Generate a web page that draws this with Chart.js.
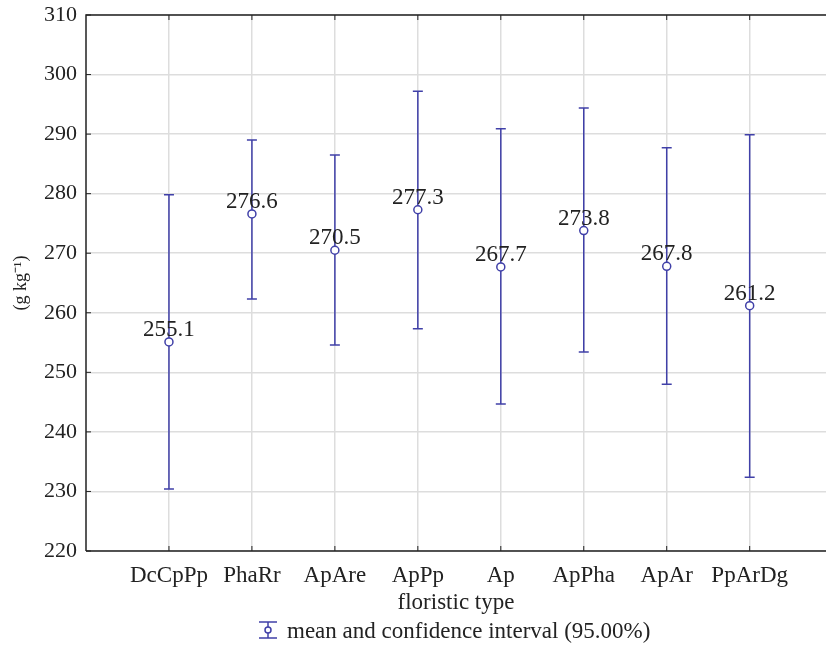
<!DOCTYPE html>
<html>
<head>
<meta charset="utf-8">
<script src="https://cdn.jsdelivr.net/npm/chart.js@4"></script>
<style>
  body { margin: 0; background: #fff; }
  #wrap { width: 826px; height: 645px; }
</style>
</head>
<body>
<div id="wrap"><canvas id="errchart" width="826" height="645"></canvas></div>
<script>
const categories = ["DcCpPp", "PhaRr", "ApAre", "ApPp", "Ap", "ApPha", "ApAr", "PpArDg"];
const means = [255.1, 276.6, 270.5, 277.3, 267.7, 273.8, 267.8, 261.2];
const lower = [230.4, 262.3, 254.6, 257.3, 244.7, 253.4, 248.0, 232.4];
const upper = [279.8, 289.0, 286.5, 297.2, 290.9, 294.4, 287.7, 289.9];
const yMin = 220, yMax = 310, yStep = 10;

const blue = "#4040a8";
const ink = "#222222";
const serif = "'Liberation Serif', 'Times New Roman', serif";

// whiskers + value labels, drawn through the chart scales
const errorBars = {
  id: "errorBars",
  beforeDatasetsDraw(chart) {
    const c = chart.ctx, xs = chart.scales.x, ys = chart.scales.y;
    c.save();
    c.strokeStyle = blue;
    c.lineWidth = 1.5;
    categories.forEach((cat, i) => {
      const x = xs.getPixelForValue(i + 1);
      const yl = ys.getPixelForValue(lower[i]);
      const yu = ys.getPixelForValue(upper[i]);
      c.beginPath();
      c.moveTo(x, yu); c.lineTo(x, yl);
      c.moveTo(x - 5, yu); c.lineTo(x + 5, yu);
      c.moveTo(x - 5, yl); c.lineTo(x + 5, yl);
      c.stroke();
    });
    c.restore();
  },
  afterDatasetsDraw(chart) {
    const c = chart.ctx, xs = chart.scales.x, ys = chart.scales.y;
    c.save();
    c.fillStyle = ink;
    c.font = "23px " + serif;
    c.textAlign = "center";
    c.textBaseline = "alphabetic";
    means.forEach((m, i) => {
      c.fillText(m.toFixed(1), xs.getPixelForValue(i + 1), ys.getPixelForValue(m) - 6);
    });
    c.restore();
  },
  afterDraw(chart) {
    const c = chart.ctx, a = chart.chartArea, xs = chart.scales.x, ys = chart.scales.y;
    c.save();
    // frame
    c.strokeStyle = ink;
    c.lineWidth = 1.5;
    c.beginPath();
    c.moveTo(a.left, a.bottom); c.lineTo(a.left, a.top); c.lineTo(a.right, a.top);
    c.moveTo(a.left, a.bottom); c.lineTo(a.right, a.bottom);
    c.stroke();
    // inward ticks
    c.lineWidth = 1;
    c.beginPath();
    for (let v = yMin; v <= yMax; v += yStep) {
      const y = ys.getPixelForValue(v);
      c.moveTo(a.left, y); c.lineTo(a.left + 5, y);
    }
    categories.forEach((cat, i) => {
      const x = xs.getPixelForValue(i + 1);
      c.moveTo(x, a.bottom); c.lineTo(x, a.bottom - 5);
      c.moveTo(x, a.top); c.lineTo(x, a.top + 5);
    });
    c.stroke();
    // x title
    c.fillStyle = ink;
    c.font = "23px " + serif;
    c.textAlign = "center";
    c.fillText("floristic type", (a.left + a.right) / 2, 609);
    // legend
    const lx = 268, ly = 630;
    c.strokeStyle = blue;
    c.lineWidth = 1.5;
    c.beginPath();
    c.moveTo(lx, ly - 8); c.lineTo(lx, ly + 8);
    c.moveTo(lx - 9, ly - 8); c.lineTo(lx + 9, ly - 8);
    c.moveTo(lx - 9, ly + 8); c.lineTo(lx + 9, ly + 8);
    c.stroke();
    c.fillStyle = "#fff";
    c.beginPath(); c.arc(lx, ly, 3, 0, Math.PI * 2); c.fill(); c.stroke();
    c.fillStyle = ink;
    c.textAlign = "left";
    c.fillText("mean and confidence interval (95.00%)", 287, 638);
    c.restore();
  }
};

const ctx = document.getElementById("errchart").getContext("2d");
const errchart = new Chart(ctx, {
  type: "scatter",
  data: {
    datasets: [
      {
        label: "mean and confidence interval (95.00%)",
        data: means.map((m, i) => ({ x: i + 1, y: m })),
        pointStyle: "circle",
        pointRadius: 4,
        pointBackgroundColor: "#ffffff",
        pointBorderColor: blue,
        pointBorderWidth: 1.5,
        showLine: false,
      },
    ],
  },
  options: {
    responsive: false,
    animation: false,
    layout: { autoPadding: false, padding: { top: 15, right: 0, left: 0, bottom: 0 } },
    plugins: {
      legend: { display: false },
      tooltip: { enabled: false },
    },
    scales: {
      x: {
        type: "linear",
        min: 0,
        max: 8.92,
        afterBuildTicks(scale) {
          scale.ticks = categories.map((c, i) => ({ value: i + 1 }));
        },
        afterFit(scale) {
          scale.height = 94;
          scale.paddingLeft = 0;
          scale.paddingRight = 0;
        },
        ticks: {
          color: ink,
          font: { family: serif, size: 23 },
          padding: 11,
          maxRotation: 0,
          callback: (v) => categories[v - 1],
        },
        grid: { color: "#dddddd", lineWidth: 1.5, drawTicks: false },
        border: { display: false },
      },
      y: {
        min: yMin,
        max: yMax,
        afterFit(scale) {
          scale.width = 86;
          scale.paddingTop = 0;
          scale.paddingBottom = 0;
        },
        ticks: {
          stepSize: yStep,
          color: ink,
          font: { family: serif, size: 22 },
          padding: 9,
        },
        grid: { color: "#dddddd", lineWidth: 1.5, drawTicks: false },
        border: { display: false },
        title: {
          display: true,
          text: "(g kg\u207B\u00B9)",
          color: ink,
          font: { family: serif, size: 18 },
          padding: { top: 10, bottom: 0 },
        },
      },
    },
  },
  plugins: [errorBars],
});
</script>
</body>
</html>
